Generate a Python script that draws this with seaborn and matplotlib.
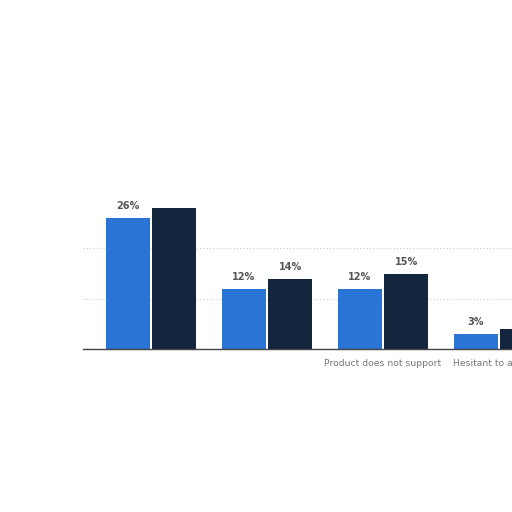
import matplotlib
matplotlib.use("Agg")
import matplotlib.pyplot as plt
import seaborn as sns
import pandas as pd

categories = ["", "", "Product does not support", "Hesitant to adopt AI"]
series_names = ["Series A", "Series B"]
series_a = [26, 12, 12, 3]
series_b = [28, 14, 15, 4]
show_a = [True, True, True, True]
show_b = [False, True, True, False]

rows = []
for i, c in enumerate(categories):
    rows.append({"cat": i, "series": series_names[0], "value": series_a[i]})
    rows.append({"cat": i, "series": series_names[1], "value": series_b[i]})
df = pd.DataFrame(rows)

sns.set_theme(style="white")
fig = plt.figure(figsize=(5.12, 5.12), dpi=100)
ax = fig.add_axes([83/512, (512-349)/512, 474/512, 151/512])

sns.barplot(data=df, x="cat", y="value", hue="series",
            palette=["#2a74d6", "#13263d"], saturation=1, width=0.8, gap=0.05,
            linewidth=0, ax=ax, legend=False)

ax.set_xlim(-0.586, 3.5)
ax.set_ylim(0, 30)
ax.set_yticks([10, 20])
ax.yaxis.grid(True, linestyle=(0, (1, 2)), color="#cccccc", linewidth=0.8)
ax.set_axisbelow(True)
ax.tick_params(axis="y", left=False, labelleft=False)
ax.tick_params(axis="x", bottom=False, pad=1)
ax.set_xticks(range(len(categories)))
ax.set_xticklabels(categories, fontsize=6.7, color="#777777")
ax.set_xlabel("")
ax.set_ylabel("")
for s in ["top", "right", "left"]:
    ax.spines[s].set_visible(False)
ax.spines["bottom"].set_color("#444444")
ax.spines["bottom"].set_linewidth(1.0)

for cont, vals, shows in zip(ax.containers, [series_a, series_b], [show_a, show_b]):
    labels = [f"{v}%" if s else "" for v, s in zip(vals, shows)]
    ax.bar_label(cont, labels=labels, padding=5, fontsize=7, fontweight="bold",
                 color="#555555")

fig.savefig("out.png", dpi=100)
